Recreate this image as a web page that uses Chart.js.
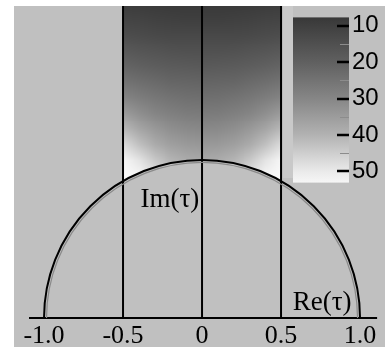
<!DOCTYPE html>
<html lang="en">

<head>
  <meta charset="UTF-8">
  <title>Fundamental domain</title>
  <script src="https://cdn.jsdelivr.net/npm/chart.js"></script>
  <style>
    html, body { margin: 0; padding: 0; background: #fff; }
    .wrap { position: relative; width: 385px; height: 347px; }
    #mainChart { position: absolute; left: 0; top: 0; }
    #barChart { position: absolute; left: 280px; top: 0; }
  </style>
</head>

<body>
  <div class="wrap">
    <canvas id="mainChart" width="385" height="347"></canvas>
    <canvas id="barChart" width="105" height="200"></canvas>
  </div>

  <script>
    // axis ticks and boundary lines of the domain
    const xTicks = [-1.0, -0.5, 0, 0.5, 1.0];
    const boundaryX = [-0.5, 0, 0.5];
    const axisX = [-1.095, 1.108];

    // field, rows top (Im 2.0) to bottom (Im 0.9)
    const fieldX = [-0.5, -0.4, -0.3, -0.2, -0.1, 0, 0.1, 0.2, 0.3, 0.4, 0.5];
    const fieldY = [2.0, 1.9, 1.8, 1.7, 1.6, 1.5, 1.4, 1.3, 1.2, 1.1, 1.0, 0.9];
    const fieldValues = [
      [9, 8.5, 8.2, 8, 8, 8, 8, 8, 8.2, 8.5, 9],
      [11.5, 11, 10.5, 10.2, 10, 10, 10, 10.2, 10.5, 11, 11.5],
      [14.2, 13.6, 13, 12.7, 12.5, 12.5, 12.5, 12.7, 13, 13.6, 14.2],
      [17.4, 16.6, 15.9, 15.4, 15.1, 15, 15.1, 15.4, 15.9, 16.6, 17.4],
      [21, 20, 19.1, 18.5, 18.1, 18, 18.1, 18.5, 19.1, 20, 21],
      [25, 23.6, 22.5, 21.7, 21.2, 21, 21.2, 21.7, 22.5, 23.6, 25],
      [29.5, 27.5, 26, 25, 24.3, 24, 24.3, 25, 26, 27.5, 29.5],
      [35, 32, 29.8, 28.3, 27.4, 27, 27.4, 28.3, 29.8, 32, 35],
      [41, 37, 34, 32, 31, 30.5, 31, 32, 34, 37, 41],
      [47.5, 42.5, 38.5, 36, 34.6, 34, 34.6, 36, 38.5, 42.5, 47.5],
      [54, 49, 44, 40.5, 38.6, 38, 38.6, 40.5, 44, 49, 54],
      [56, 54, 49, 44.5, 42, 41, 42, 44.5, 49, 54, 56]
    ];

    // colour bar
    const cbarMajor = [10, 20, 30, 40, 50];
    const cbarMinor = [15, 25, 35, 45];
    const cmapValues = [7.7, 20, 30, 40, 50, 53.1, 56];
    const cmapGrays = [56, 96, 134, 178, 234, 246, 250];

    const axisLabels = [
      { text: 'Im(\u03c4)', x: -0.39, y: 0.747 },
      { text: 'Re(\u03c4)', x: 0.574, y: 0.095 }
    ];

    const BG = '#c0c0c0';

    function grayOf(v) {
      if (v <= cmapValues[0]) return cmapGrays[0];
      for (let i = 1; i < cmapValues.length; i++) {
        if (v <= cmapValues[i]) {
          const t = (v - cmapValues[i - 1]) / (cmapValues[i] - cmapValues[i - 1]);
          return Math.round(cmapGrays[i - 1] + t * (cmapGrays[i] - cmapGrays[i - 1]));
        }
      }
      return cmapGrays[cmapGrays.length - 1];
    }
    const rgb = g => `rgb(${g},${g},${g})`;

    const fieldPlugin = {
      id: 'field',
      beforeDraw(chart) {
        const { ctx, chartArea: a } = chart;
        ctx.save();
        ctx.fillStyle = BG;
        ctx.fillRect(a.left, a.top, a.right - a.left, a.bottom - a.top);
        ctx.restore();
      },
      beforeDatasetsDraw(chart) {
        const { ctx, chartArea: a, scales: { x, y } } = chart;
        const off = document.createElement('canvas');
        off.width = fieldX.length; off.height = fieldY.length;
        const octx = off.getContext('2d');
        const img = octx.createImageData(off.width, off.height);
        fieldValues.forEach((row, j) => row.forEach((v, i) => {
          const k = (j * off.width + i) * 4, g = grayOf(v);
          img.data[k] = img.data[k + 1] = img.data[k + 2] = g;
          img.data[k + 3] = 255;
        }));
        octx.putImageData(img, 0, 0);

        const dx = (fieldX[1] - fieldX[0]) / 2, dy = (fieldY[0] - fieldY[1]) / 2;
        const left = x.getPixelForValue(fieldX[0] - dx), right = x.getPixelForValue(fieldX[fieldX.length - 1] + dx);
        const top = y.getPixelForValue(fieldY[0] + dy), bottom = y.getPixelForValue(fieldY[fieldY.length - 1] - dy);
        const xl = x.getPixelForValue(boundaryX[0]), xr = x.getPixelForValue(boundaryX[boundaryX.length - 1]);
        const cx = x.getPixelForValue(0), cy = y.getPixelForValue(0), r = x.getPixelForValue(1) - cx;

        ctx.save();
        ctx.beginPath();
        ctx.rect(xl, a.top, xr - xl, cy - a.top);
        ctx.clip();
        ctx.imageSmoothingEnabled = true;
        ctx.drawImage(off, left, top, right - left, bottom - top);
        ctx.beginPath();
        ctx.arc(cx, cy, r, 0, 2 * Math.PI);
        ctx.fillStyle = BG;
        ctx.fill();
        ctx.restore();
      },
      afterDatasetsDraw(chart) {
        const { ctx, scales: { x, y } } = chart;
        const cx = x.getPixelForValue(0), cy = y.getPixelForValue(0), r = x.getPixelForValue(1) - cx;
        ctx.save();
        ctx.beginPath();
        ctx.arc(cx, cy, r - 2.5, Math.PI, 2 * Math.PI);
        ctx.strokeStyle = '#8a8a8a';
        ctx.lineWidth = 1.2;
        ctx.stroke();
        ctx.beginPath();
        ctx.arc(cx, cy, r, Math.PI, 2 * Math.PI);
        ctx.strokeStyle = '#000';
        ctx.lineWidth = 2;
        ctx.stroke();

        ctx.fillStyle = '#000';
        ctx.font = '27px "Liberation Serif"';
        ctx.textAlign = 'left';
        ctx.textBaseline = 'middle';
        axisLabels.forEach(l => ctx.fillText(l.text, x.getPixelForValue(l.x), y.getPixelForValue(l.y)));
        ctx.restore();
      }
    };

    const lineStyle = { showLine: true, borderColor: '#000', borderWidth: 2, pointRadius: 0, fill: false };

    new Chart(document.getElementById('mainChart'), {
      type: 'scatter',
      data: {
        datasets: [
          ...boundaryX.map(bx => ({ ...lineStyle, data: [{ x: bx, y: 0 }, { x: bx, y: 1.975 }] })),
          { ...lineStyle, data: axisX.map(ax => ({ x: ax, y: 0 })) }
        ]
      },
      options: {
        responsive: false,
        animation: false,
        layout: { padding: { left: 14, top: 6, right: 0, bottom: 0 } },
        plugins: { legend: { display: false }, tooltip: { enabled: false } },
        scales: {
          x: {
            type: 'linear', min: -1.19, max: 1.158, position: { y: 0 },
            grid: { display: false, drawTicks: false },
            border: { display: false },
            afterBuildTicks: s => { s.ticks = xTicks.map(v => ({ value: v })); },
            ticks: {
              autoSkip: false, maxRotation: 0, padding: 3, color: '#000',
              font: { family: 'Liberation Serif', size: 26 },
              callback: v => v === 0 ? '0' : v.toFixed(1)
            }
          },
          y: { type: 'linear', min: -0.184, max: 1.975, display: false }
        }
      },
      plugins: [fieldPlugin]
    });

    const colorbarPlugin = {
      id: 'colorbar',
      beforeDraw(chart) {
        const { ctx, chartArea: a, scales: { y } } = chart;
        ctx.save();
        ctx.fillStyle = '#c9c9c9';
        ctx.fillRect(3, 6, a.left - 3, 172);
        const grad = ctx.createLinearGradient(0, a.top, 0, a.bottom);
        grad.addColorStop(0, rgb(grayOf(y.min)));
        cmapValues.forEach(v => {
          const p = (y.getPixelForValue(v) - a.top) / (a.bottom - a.top);
          if (p > 0 && p < 1) grad.addColorStop(p, rgb(grayOf(v)));
        });
        grad.addColorStop(1, rgb(grayOf(y.max)));
        ctx.fillStyle = grad;
        ctx.fillRect(a.left, a.top, a.right - a.left, a.bottom - a.top);
        ctx.restore();
      },
      afterDraw(chart) {
        const { ctx, chartArea: a, scales: { y } } = chart;
        ctx.save();
        ctx.strokeStyle = '#000';
        ctx.lineWidth = 2.5;
        cbarMajor.forEach(v => {
          const py = Math.round(y.getPixelForValue(v));
          ctx.beginPath(); ctx.moveTo(a.right - 12, py); ctx.lineTo(a.right, py); ctx.stroke();
        });
        ctx.strokeStyle = '#8c8c8c';
        ctx.lineWidth = 1;
        cbarMinor.forEach(v => {
          const py = Math.round(y.getPixelForValue(v)) + 0.5;
          ctx.beginPath(); ctx.moveTo(a.right - 9, py); ctx.lineTo(a.right, py); ctx.stroke();
        });
        ctx.restore();
      }
    };

    new Chart(document.getElementById('barChart'), {
      type: 'scatter',
      data: { datasets: [] },
      options: {
        responsive: false,
        animation: false,
        layout: { padding: { left: 13, top: 7, right: 0, bottom: 17 } },
        plugins: { legend: { display: false }, tooltip: { enabled: false } },
        scales: {
          x: { display: false, min: 0, max: 1 },
          y: {
            type: 'linear', position: 'right', reverse: true, min: 7.68, max: 53.1,
            afterBuildTicks: s => { s.ticks = cbarMajor.map(v => ({ value: v })); },
            afterFit: s => { s.width = 36; },
            grid: { display: false, drawTicks: false },
            border: { display: false },
            ticks: { padding: 3, color: '#000', font: { family: 'Liberation Sans', size: 24 } }
          }
        }
      },
      plugins: [colorbarPlugin]
    });
  </script>
</body>

</html>
